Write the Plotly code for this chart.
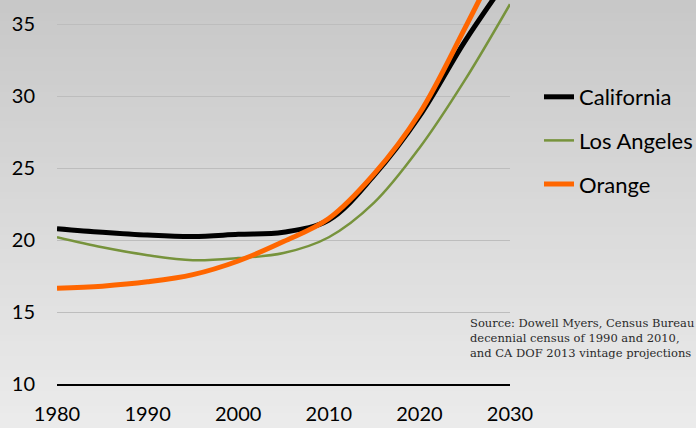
import plotly.graph_objects as go

years = [1980, 1985, 1990, 1995, 2000, 2005, 2010, 2015, 2020, 2025, 2030]
california = [20.8, 20.55, 20.35, 20.25, 20.4, 20.55, 21.4, 24.5, 28.6, 33.8, 38.4]
los_angeles = [20.2, 19.5, 18.95, 18.6, 18.75, 19.1, 20.2, 22.6, 26.4, 31.1, 36.4]
orange = [16.65, 16.8, 17.1, 17.6, 18.55, 19.9, 21.5, 24.6, 28.8, 34.7, 41.0]

x_ticks = [1980, 1990, 2000, 2010, 2020, 2030]
y_ticks = [10, 15, 20, 25, 30, 35]

W, H = 696, 428
ML, MR, MT, MB = 57, 186, 0, 44

fig = go.Figure()

fig.add_trace(go.Scatter(x=years, y=california, name="California", mode="lines",
                         line=dict(color="#000000", width=5, shape="spline", smoothing=1),
                         legendgroup="a"))
fig.add_trace(go.Scatter(x=years, y=los_angeles, name="Los Angeles", mode="lines",
                         line=dict(color="#77933C", width=2.5, shape="spline", smoothing=1),
                         legendgroup="b"))
fig.add_trace(go.Scatter(x=years, y=orange, name="Orange", mode="lines",
                         line=dict(color="#FF6600", width=5, shape="spline", smoothing=1),
                         legendgroup="c"))

# gradient background as strips
pw = W - ML - MR
ph = H - MT - MB
n = 60
shapes = []
for i in range(n):
    y0px = H * i / n
    y1px = H * (i + 1) / n
    t = (i + 0.5) / n
    c = int(200 + (236 - 200) * t)
    shapes.append(dict(type="rect", xref="paper", yref="paper",
                       x0=-ML / pw - 0.01, x1=(W - ML) / pw + 0.01,
                       y0=1 - (y1px - MT) / ph - 0.002, y1=1 - (y0px - MT) / ph + 0.002,
                       fillcolor=f"rgb({c},{c},{c})", line=dict(width=0), layer="below"))

fig.update_layout(
    width=W, height=H,
    margin=dict(l=ML, r=MR, t=MT, b=MB, autoexpand=False),
    paper_bgcolor="#dcdcdc",
    plot_bgcolor="rgba(0,0,0,0)",
    shapes=shapes,
    font=dict(family="Lato", size=20, color="#000000"),
    showlegend=True,
    legend=dict(x=(539 - ML) / pw, y=1 - (76 - MT) / ph, xanchor="left", yanchor="top",
                bgcolor="rgba(0,0,0,0)", font=dict(family="Lato", size=22),
                traceorder="grouped", tracegroupgap=12, itemwidth=30),
    xaxis=dict(range=[1980, 2030], tickvals=x_ticks, ticktext=[str(v) for v in x_ticks],
               showgrid=False, zeroline=False, showline=True, linecolor="#000000",
               linewidth=1.5, ticks="", tickfont=dict(family="Lato", size=20),
               ticklabelstandoff=11, automargin=False),
    yaxis=dict(range=[10, 36.69], tickvals=y_ticks, ticktext=[str(v) for v in y_ticks],
               showgrid=True, gridcolor="#bdbdbd", gridwidth=1, zeroline=False,
               showline=False, ticks="", tickfont=dict(family="Lato", size=20),
               ticklabelstandoff=21, automargin=False),
    annotations=[dict(xref="paper", yref="paper", x=(468 - ML) / pw, y=1 - (314 - MT) / ph,
                      xanchor="left", yanchor="top", align="left", showarrow=False,
                      text="Source: Dowell Myers, Census Bureau<br>decennial census of 1990 and 2010,<br>and CA DOF 2013 vintage projections",
                      font=dict(family="DejaVu Serif", size=11.5, color="#2a2a2a"))],
)

fig.write_html("out.html", config={"displayModeBar": False},
               post_script="document.body.style.margin='0';document.body.style.overflow='hidden';")
